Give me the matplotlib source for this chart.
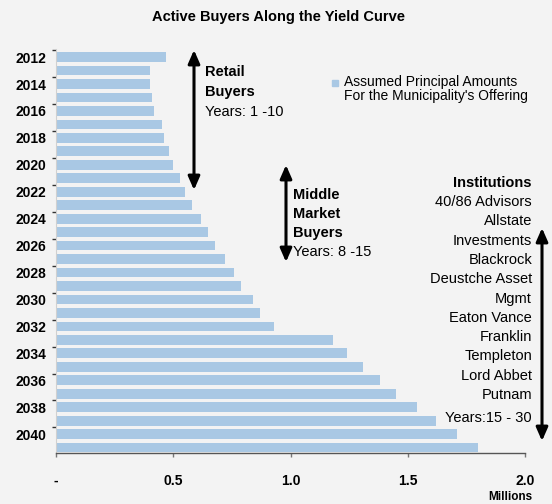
import matplotlib
matplotlib.use('Agg')
import matplotlib.pyplot as plt
import numpy as np

plt.rcParams['font.family'] = ['Liberation Sans', 'DejaVu Sans']

# ---- data ----
years = list(range(2012, 2042))
amounts = [0.47, 0.40, 0.40, 0.41, 0.42, 0.45, 0.46, 0.48, 0.50, 0.53,
           0.55, 0.58, 0.62, 0.65, 0.68, 0.72, 0.76, 0.79, 0.84, 0.87,
           0.93, 1.18, 1.24, 1.31, 1.38, 1.45, 1.54, 1.62, 1.71, 1.80]
x_ticks = [0.0, 0.5, 1.0, 1.5, 2.0]
x_tick_labels = ['-', '0.5', '1.0', '1.5', '2.0']
title = 'Active Buyers Along the Yield Curve'
legend_label = "Assumed Principal Amounts\nFor the Municipality's Offering"
institutions = ['40/86 Advisors', 'Allstate', 'Investments', 'Blackrock',
                'Deustche Asset', 'Mgmt', 'Eaton Vance', 'Franklin',
                'Templeton', 'Lord Abbet', 'Putnam']

bar_color = '#a9c8e4'
bg = '#f3f3f3'
W, H = 552, 504

fig = plt.figure(figsize=(W / 100, H / 100), dpi=100, facecolor=bg)
ax = fig.add_axes([56 / W, 1 - 453 / H, (525 - 56) / W, (453 - 49) / H])
ax.set_facecolor('none')

pos = np.arange(len(years))
ax.barh(pos, amounts, height=0.72, color=bar_color, zorder=2)
ax.set_xlim(0, 2.0)
ax.set_ylim(len(years) - 1 + 0.4, -0.6)

for s in ['top', 'right']:
    ax.spines[s].set_visible(False)
ax.spines['left'].set_color('#d0d0d0')
ax.spines['left'].set_linewidth(0.8)
ax.spines['bottom'].set_color('#555555')
ax.spines['bottom'].set_linewidth(1.0)

ax.set_yticks(pos[::2])
ax.set_yticklabels([str(y) for y in years[::2]], fontsize=10, fontweight='bold')
ax.tick_params(axis='y', which='major', length=0, pad=7)
ax.set_yticks(pos[::2] - 0.5, minor=True)
ax.tick_params(axis='y', which='minor', length=3, width=1, color='#333333')

ax.set_xticks(x_ticks)
ax.set_xticklabels(x_tick_labels, fontsize=10, fontweight='bold')
ax.tick_params(axis='x', length=3, width=1, color='#777777', pad=12)

fig.text(532 / W, 1 - 497 / H, 'Millions', ha='right', va='center',
         fontsize=8.5, fontweight='bold')

fig.text(278 / W, 1 - 17 / H, title, ha='center', va='center',
         fontsize=10.5, fontweight='bold')

# legend
fig.patches.append(plt.Rectangle((332 / W, 1 - 86 / H), 6 / W, 6 / H,
                                 transform=fig.transFigure, color=bar_color,
                                 figure=fig))
fig.text(344 / W, 1 - 89 / H, legend_label, ha='left', va='center',
         fontsize=10, linespacing=0.95)

def fy(y):
    return 1 - y / H

def arrow(x, y0, y1):
    ax.annotate('', xy=(x / W, fy(y0)), xytext=(x / W, fy(y1)),
                xycoords='figure fraction', textcoords='figure fraction',
                arrowprops=dict(arrowstyle='<|-|>,head_length=0.8,head_width=0.35',
                                color='black', lw=2.2, shrinkA=0, shrinkB=0,
                                mutation_scale=10))

# Retail
arrow(194, 50, 190)
fig.text(205 / W, fy(72), 'Retail', fontsize=10.5, fontweight='bold', va='center')
fig.text(205 / W, fy(92), 'Buyers', fontsize=10.5, fontweight='bold', va='center')
fig.text(205 / W, fy(112), 'Years: 1 -10', fontsize=10.5, va='center')

# Middle market
arrow(286, 165, 262)
fig.text(293 / W, fy(195), 'Middle', fontsize=10.5, fontweight='bold', va='center')
fig.text(293 / W, fy(214), 'Market', fontsize=10.5, fontweight='bold', va='center')
fig.text(293 / W, fy(233), 'Buyers', fontsize=10.5, fontweight='bold', va='center')
fig.text(293 / W, fy(252), 'Years: 8 -15', fontsize=10.5, va='center')

# Institutions
fig.text(532 / W, fy(183), 'Institutions', fontsize=10.5, fontweight='bold',
         ha='right', va='center')
for i, name in enumerate(institutions):
    fig.text(532 / W, fy(202 + i * 19.3), name, fontsize=10.5, ha='right', va='center')
fig.text(532 / W, fy(418), 'Years:15 - 30', fontsize=10.5, ha='right', va='center')
arrow(542, 228, 441)

fig.savefig('out.png', dpi=100, facecolor=bg)
